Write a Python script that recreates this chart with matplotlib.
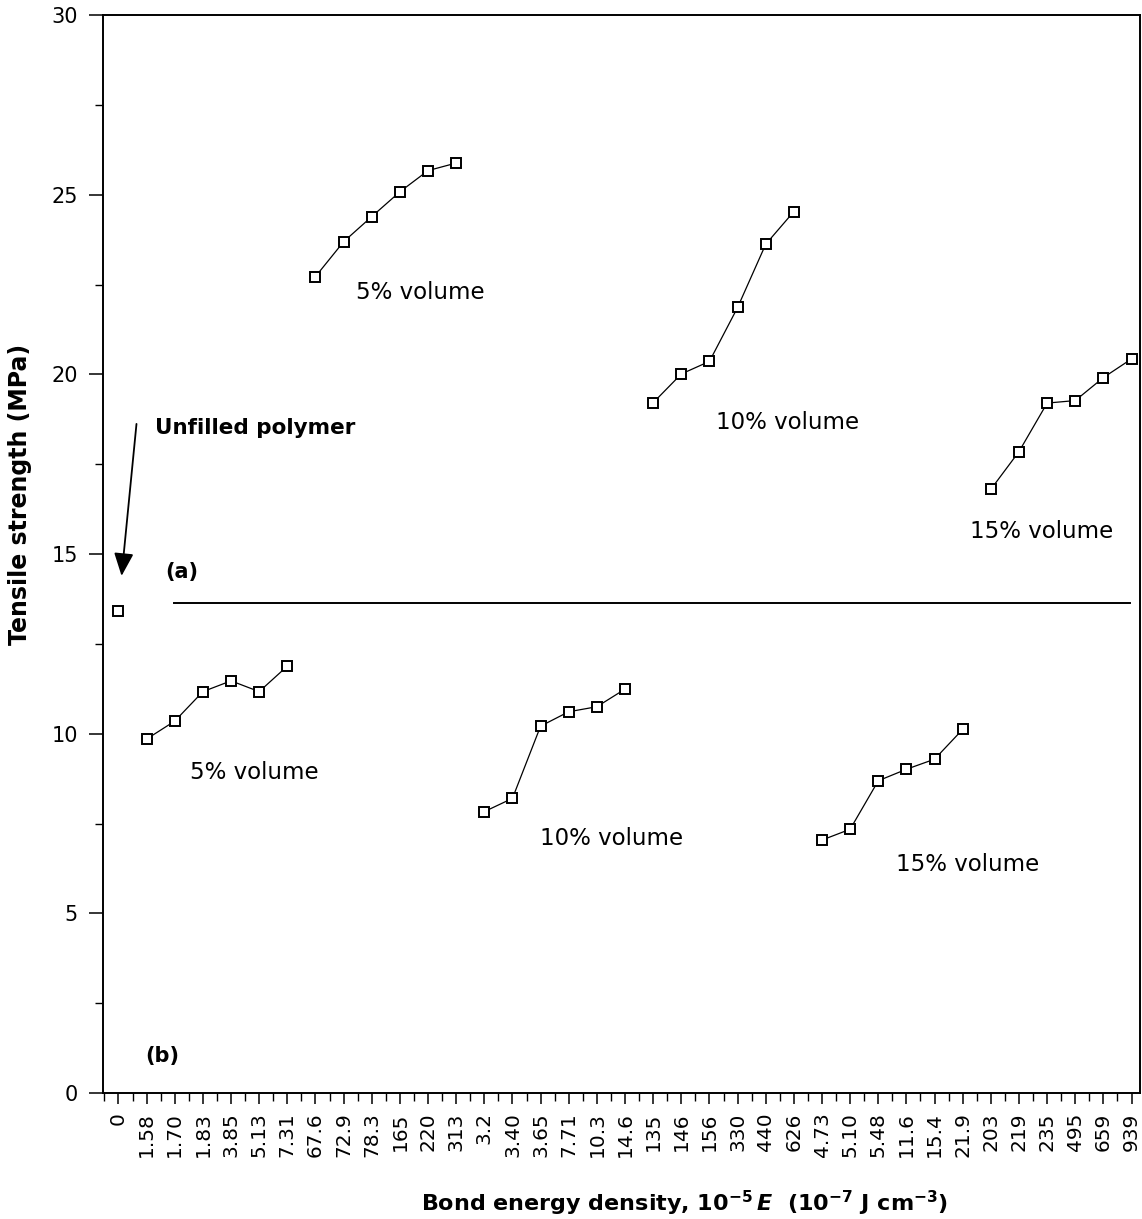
import matplotlib
matplotlib.use("Agg")
import matplotlib.pyplot as plt
from matplotlib.ticker import FixedLocator, MultipleLocator

plt.rcParams['font.family'] = ['DejaVu Sans']
plt.rcParams['mathtext.fontset'] = 'custom'
plt.rcParams['mathtext.rm'] = 'DejaVu Sans:bold'
plt.rcParams['mathtext.it'] = 'DejaVu Sans:bold:italic'
plt.rcParams['mathtext.bf'] = 'DejaVu Sans:bold'

# ---- data ----
categories = ["0", "1.58", "1.70", "1.83", "3.85", "5.13", "7.31",
              "67.6", "72.9", "78.3", "165", "220", "313",
              "3.2", "3.40", "3.65", "7.71", "10.3", "14.6",
              "135", "146", "156", "330", "440", "626",
              "4.73", "5.10", "5.48", "11.6", "15.4", "21.9",
              "203", "219", "235", "495", "659", "939"]

unfilled_cat = ["0"]
unfilled_val = [13.42]

b5_cat = ["1.58", "1.70", "1.83", "3.85", "5.13", "7.31"]
b5_val = [9.85, 10.35, 11.17, 11.47, 11.17, 11.88]

a5_cat = ["67.6", "72.9", "78.3", "165", "220", "313"]
a5_val = [22.72, 23.69, 24.39, 25.08, 25.67, 25.88]

b10_cat = ["3.2", "3.40", "3.65", "7.71", "10.3", "14.6"]
b10_val = [7.83, 8.20, 10.21, 10.61, 10.75, 11.24]

a10_cat = ["135", "146", "156", "330", "440", "626"]
a10_val = [19.21, 20.01, 20.36, 21.86, 23.62, 24.53]

b15_cat = ["4.73", "5.10", "5.48", "11.6", "15.4", "21.9"]
b15_val = [7.04, 7.34, 8.69, 9.01, 9.29, 10.12]

a15_cat = ["203", "219", "235", "495", "659", "939"]
a15_val = [16.80, 17.85, 19.20, 19.27, 19.91, 20.43]

divider_level = 13.65

# ---- figure ----
W, H = 1142, 1219
fig = plt.figure(figsize=(W / 100, H / 100), dpi=100)
ax = fig.add_axes([103 / W, 1 - 1093 / H, (1140 - 103) / W, (1093 - 15) / H])

pos = {c: i for i, c in enumerate(categories)}

def xs(cats):
    return [pos[c] for c in cats]

mk = dict(marker='s', markersize=7, markerfacecolor='white',
          markeredgecolor='black', markeredgewidth=1.4, color='black',
          linewidth=0.9)

for cats, vals in [(b5_cat, b5_val), (a5_cat, a5_val), (b10_cat, b10_val),
                   (a10_cat, a10_val), (b15_cat, b15_val), (a15_cat, a15_val)]:
    ax.plot(xs(cats), vals, **mk)
ax.plot(xs(unfilled_cat), unfilled_val, linestyle='none',
        **{k: v for k, v in mk.items() if k != 'linewidth'})

# divider line between (a) and (b)
ax.plot([1.97, 35.95], [divider_level, divider_level], color='black', linewidth=1.4)

# axes setup
ax.set_xlim(-0.55, 36.30)
ax.set_ylim(0, 30)
ax.xaxis.set_major_locator(FixedLocator(range(len(categories))))
ax.set_xticklabels(categories, rotation=90, fontsize=14.5)
ax.xaxis.set_minor_locator(FixedLocator([i + 0.5 for i in range(-1, len(categories))]))
ax.yaxis.set_major_locator(MultipleLocator(5))
ax.yaxis.set_minor_locator(MultipleLocator(2.5))
ax.tick_params(axis='y', which='major', length=10, width=1.1, labelsize=15, pad=8)
ax.tick_params(axis='y', which='minor', length=6, width=1.0)
ax.tick_params(axis='x', which='major', length=8, width=1.1, pad=6)
ax.tick_params(axis='x', which='minor', length=6, width=1.0)
for s in ax.spines.values():
    s.set_linewidth(1.4)

# annotations
ax.annotate("", xy=(0.11, 14.39), xytext=(0.64, 18.62),
            arrowprops=dict(arrowstyle='-|>,head_length=1.4,head_width=0.6',
                            color='black', linewidth=1.3, shrinkA=0, shrinkB=0))
ax.text(1.29, 18.5, "Unfilled polymer", fontsize=15.5, fontweight='bold',
        ha='left', va='center')
ax.text(2.25, 14.5, "(a)", fontsize=15, fontweight='bold', ha='center', va='center')
ax.text(1.54, 1.03, "(b)", fontsize=15, fontweight='bold', ha='center', va='center')

vol_labels = [(10.71, 22.27, "5% volume"), (23.79, 18.65, "10% volume"),
              (32.80, 15.64, "15% volume"), (4.81, 8.93, "5% volume"),
              (17.52, 7.07, "10% volume"), (30.17, 6.35, "15% volume")]
for x, y, t in vol_labels:
    ax.text(x, y, t, fontsize=16.5, ha='center', va='center')

# axis titles
fig.text(20 / W, 1 - 494 / H, "Tensile strength (MPa)", rotation=90,
         fontsize=17, fontweight='bold', ha='center', va='center')
fig.text(685 / W, 1 - 1203 / H,
         r"Bond energy density, $\mathrm{10^{-5}}\,\mathit{E}$  (10$\mathrm{^{-7}}$ J cm$\mathrm{^{-3}}$)",
         fontsize=16, fontweight='bold', ha='center', va='center')

fig.savefig("out.png", dpi=100)
